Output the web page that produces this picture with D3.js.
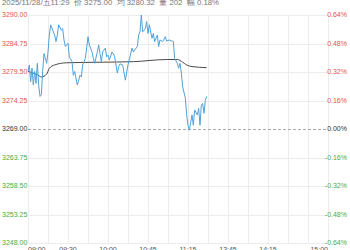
<!DOCTYPE html>
<html>
<head>
<meta charset="utf-8">
<script src="https://cdn.jsdelivr.net/npm/d3@7"></script>
<style>
  body { margin: 0; background: #fff; }
  svg { display: block; font-family: Arial, 'Liberation Sans', sans-serif; }
</style>
</head>
<body>
<div id="chart"></div>
<script>
// previous settle and header info
const basePrice = 3269;
const headerText = '2025/11/28/五11:29  价 3275.00  均 3280.32  量 202  幅 0.18%';

// y tick values (price) and x tick labels (trading minutes since 09:00)
const priceTicks = [3290.00, 3284.75, 3279.50, 3274.25, 3269.00, 3263.75, 3258.50, 3253.25, 3248.00];
const timeTickMins = [0, 30, 60, 90, 120, 150, 180, 225];
const timeTickLabels = ['09:00', '09:30', '10:00', '10:45', '11:15', '13:45', '14:15', '15:00'];

// price line
const priceMins = [0, 1, 2, 3, 4, 5, 6, 7, 8, 9, 10, 11, 12, 14, 15, 16, 17, 19, 20, 21,
  22, 23, 25, 26, 27, 28, 30, 31, 33, 34, 35, 37, 38, 39, 40, 41, 43, 44, 45, 46,
  48, 49, 50, 52, 53, 54, 55, 56, 58, 59, 60, 61, 63, 64, 65, 67, 68, 69, 71, 73,
  75, 78, 79, 82, 83, 84, 85, 86, 88, 89, 90, 91, 93, 94, 95, 97, 98, 99, 101, 103,
  104, 106, 109, 110, 112, 113, 114, 115, 116, 118, 119, 120, 121, 123, 124, 125, 127, 128, 129, 130,
  131, 132, 133, 134];
const prices = [3279.6, 3280.8, 3277.7, 3280.2, 3277.1, 3279.6, 3277.4, 3281.1, 3277.1, 3275.0,
  3275.3, 3279.6, 3282.9, 3281.1, 3283.2, 3286.3, 3288.2, 3286.9, 3286.3, 3285.1,
  3286.3, 3288.2, 3287.2, 3287.5, 3285.4, 3284.2, 3284.8, 3282.3, 3281.4, 3278.9,
  3279.6, 3277.1, 3278.0, 3278.9, 3278.6, 3280.8, 3282.0, 3283.9, 3286.0, 3284.5,
  3283.2, 3282.0, 3281.1, 3283.2, 3284.5, 3282.9, 3281.4, 3283.2, 3283.9, 3282.3,
  3282.6, 3281.7, 3283.2, 3282.9, 3282.3, 3279.3, 3280.5, 3281.0, 3280.8, 3278.0,
  3280.8, 3283.9, 3283.2, 3284.2, 3286.3, 3286.9, 3290.0, 3286.9, 3287.5, 3288.8,
  3286.6, 3288.2, 3285.7, 3286.6, 3285.1, 3286.3, 3284.2, 3285.4, 3285.1, 3286.0,
  3285.2, 3285.4, 3285.1, 3282.0, 3281.1, 3280.2, 3281.1, 3279.3, 3276.8, 3274.7,
  3271.6, 3269.7, 3268.8, 3271.6, 3269.7, 3272.5, 3271.6, 3272.8, 3269.7, 3273.4,
  3273.7, 3271.9, 3274.3, 3275.0];

// average price line
const avgMins = [0, 7, 10, 14, 16, 20, 29, 54, 79, 104, 112, 116, 119, 123, 134];
const avgPrices = [3279.6, 3279.0, 3278.6, 3279.1, 3280.2, 3280.8, 3281.2, 3281.3, 3281.4,
  3281.8, 3281.8, 3281.3, 3280.8, 3280.5, 3280.3];

const width = 350, height = 250;
const svg = d3.select('#chart').append('svg')
    .attr('width', width)
    .attr('height', height);

const x = d3.scaleLinear().domain([0, 225]).range([28, 328]);
const y = d3.scaleLinear().domain([3248, 3290]).range([243, 15]);

const red = '#e2524c', green = '#3fae49', dark = '#333';
function tickColor(v) {
  if (v > basePrice) return red;
  if (v < basePrice) return green;
  return dark;
}

// vertical grid every 15 trading minutes
svg.append('g')
    .selectAll('line')
    .data(d3.range(0, 226, 15))
    .enter().append('line')
    .attr('x1', d => Math.round(x(d)) + 0.5).attr('x2', d => Math.round(x(d)) + 0.5)
    .attr('y1', y(3290)).attr('y2', y(3248))
    .attr('stroke', '#ececec')
    .attr('stroke-width', 1);

// horizontal grid
svg.append('g')
    .selectAll('line')
    .data(priceTicks)
    .enter().append('line')
    .attr('x1', x(0)).attr('x2', x(225))
    .attr('y1', d => Math.round(y(d)) + 0.5).attr('y2', d => Math.round(y(d)) + 0.5)
    .attr('stroke', d => d === basePrice ? '#aaa' : '#ececec')
    .attr('stroke-dasharray', d => d === basePrice ? '3,2' : null)
    .attr('stroke-width', 1);

// left price labels
svg.append('g')
    .selectAll('text')
    .data(priceTicks)
    .enter().append('text')
    .attr('x', 2)
    .attr('y', d => y(d))
    .attr('dy', '0.35em')
    .attr('font-size', 7)
    .attr('fill', tickColor)
    .text(d => d.toFixed(2));

// right percent labels
svg.append('g')
    .selectAll('text')
    .data(priceTicks)
    .enter().append('text')
    .attr('x', 347)
    .attr('y', d => y(d))
    .attr('dy', '0.35em')
    .attr('font-size', 7)
    .attr('text-anchor', 'end')
    .attr('fill', tickColor)
    .text(d => ((d - basePrice) / basePrice * 100).toFixed(2) + '%');

// time labels (partly below the bottom edge, as in the source)
svg.append('g')
    .selectAll('text')
    .data(timeTickMins)
    .enter().append('text')
    .attr('x', d => x(d))
    .attr('y', 252)
    .attr('font-size', 7)
    .attr('fill', '#555')
    .attr('text-anchor', (d, i) => i === 0 ? 'start' : (i === timeTickMins.length - 1 ? 'end' : 'middle'))
    .text((d, i) => timeTickLabels[i]);

// average line
const avgLine = d3.line()
    .x((d, i) => x(avgMins[i]))
    .y(d => y(d))
    .curve(d3.curveMonotoneX);
svg.append('path')
    .attr('d', avgLine(avgPrices))
    .attr('fill', 'none')
    .attr('stroke', '#4a4a4a')
    .attr('stroke-width', 1);

// price line
const priceLine = d3.line()
    .x((d, i) => x(priceMins[i]))
    .y(d => y(d));
svg.append('path')
    .attr('d', priceLine(prices))
    .attr('fill', 'none')
    .attr('stroke', '#4fa3da')
    .attr('stroke-width', 1);

// header
svg.append('text')
    .attr('x', 2)
    .attr('y', 5)
    .attr('font-size', 7.8)
    .attr('fill', '#777')
    .attr('xml:space', 'preserve')
    .style('white-space', 'pre')
    .text(headerText);
</script>
</body>
</html>
